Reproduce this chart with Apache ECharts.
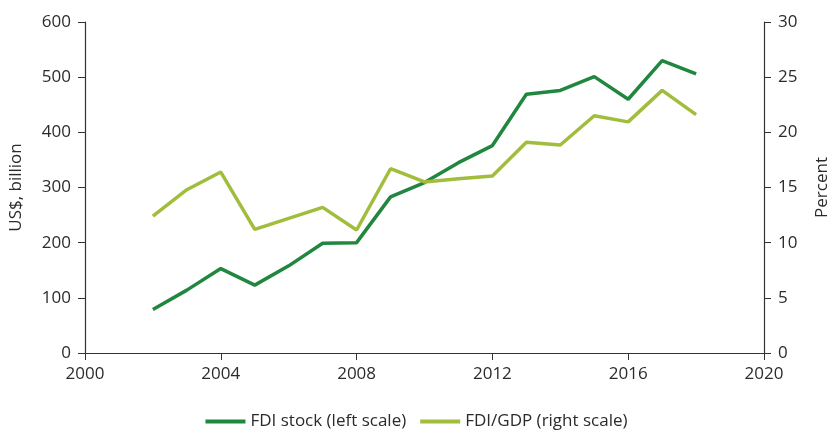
<!DOCTYPE html>
<html>
<head>
<meta charset="utf-8">
<script src="https://cdn.jsdelivr.net/npm/echarts@6/dist/echarts.min.js"></script>
<style>html,body{margin:0;padding:0;background:#fff;overflow:hidden;width:833px;height:431px;}#c{position:absolute;left:0;top:0;width:833px;height:431px;}</style>
</head>
<body>
<div id="c"></div>
<script>
var years = [2002,2003,2004,2005,2006,2007,2008,2009,2010,2011,2012,2013,2014,2015,2016,2017,2018];
var fdiStock = [79,114,153,123,158,199,200,283,309,345,376,469,476,501,460,530,506];
var fdiGdp = [12.4,14.8,16.4,11.2,12.2,13.2,11.15,16.7,15.5,15.8,16.05,19.1,18.85,21.5,20.95,23.8,21.6];
var xTicks = [2000,2004,2008,2012,2016,2020];
var leftTicks = [0,100,200,300,400,500,600];
var rightTicks = [0,5,10,15,20,25,30];

var FONT = 'Open Sans';
var TXT = '#2b2b2b';
var FS = 17;
var chart = echarts.init(document.getElementById('c'), null, {renderer:'canvas', width:833, height:431});
function pairs(ys){ return years.map(function(y,i){ return [y, ys[i]]; }); }
chart.setOption({
  animation:false,
  textStyle:{fontFamily:FONT},
  grid:{left:85,right:69,top:22,bottom:78,containLabel:false,outerBoundsMode:'none'},
  legend:{
    top:408, left:'center',
    itemWidth:40, itemHeight:4, itemGap:14,
    icon:'rect',
    textStyle:{fontFamily:FONT,fontSize:FS,color:TXT},
    data:['FDI stock (left scale)','FDI/GDP (right scale)']
  },
  xAxis:{
    type:'value', min:xTicks[0], max:xTicks[xTicks.length-1], interval:4,
    axisLine:{lineStyle:{color:'#333',width:1.2}},
    axisTick:{show:true,length:7,lineStyle:{color:'#333'}},
    axisLabel:{color:TXT,fontSize:FS,fontFamily:FONT,margin:13,formatter:function(v){return String(v);}},
    splitLine:{show:false}
  },
  yAxis:[{
    type:'value', min:leftTicks[0], max:leftTicks[leftTicks.length-1], interval:100,
    name:'US$, billion', nameLocation:'middle', nameGap:60, nameRotate:90,
    nameTextStyle:{color:TXT,fontSize:FS,fontFamily:FONT},
    axisLine:{show:true,lineStyle:{color:'#333',width:1.2}},
    axisTick:{show:true,length:7,lineStyle:{color:'#333'}},
    axisLabel:{color:TXT,fontSize:FS,fontFamily:FONT,margin:14},
    splitLine:{show:false}
  },{
    type:'value', min:rightTicks[0], max:rightTicks[rightTicks.length-1], interval:5,
    name:'Percent', nameLocation:'middle', nameGap:50, nameRotate:90,
    nameTextStyle:{color:TXT,fontSize:FS,fontFamily:FONT},
    axisLine:{show:true,lineStyle:{color:'#333',width:1.2}},
    axisTick:{show:true,length:7,lineStyle:{color:'#333'}},
    axisLabel:{color:TXT,fontSize:FS,fontFamily:FONT,margin:14},
    splitLine:{show:false}
  }],
  series:[{
    name:'FDI stock (left scale)', type:'line', yAxisIndex:0,
    data:pairs(fdiStock), showSymbol:false, symbol:'none',
    lineStyle:{color:'#21873f',width:3.5}, itemStyle:{color:'#21873f'}
  },{
    name:'FDI/GDP (right scale)', type:'line', yAxisIndex:1,
    data:pairs(fdiGdp), showSymbol:false, symbol:'none',
    lineStyle:{color:'#a0bd3b',width:3.5}, itemStyle:{color:'#a0bd3b'}
  }]
});
</script>
</body>
</html>
